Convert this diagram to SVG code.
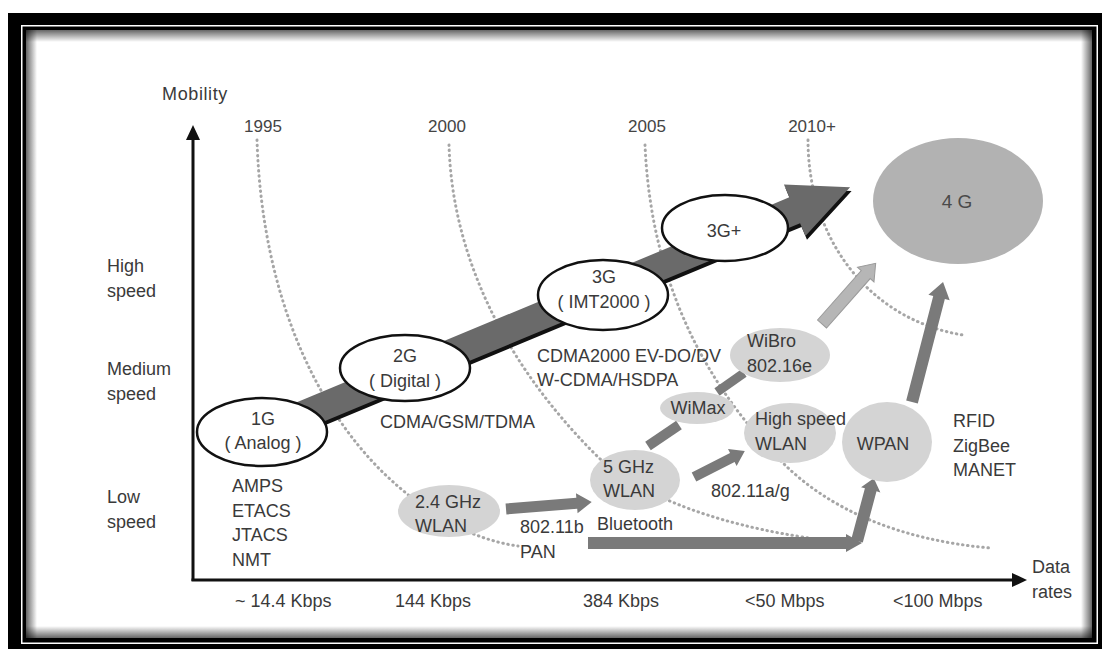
<svg xmlns="http://www.w3.org/2000/svg" width="1102" height="649" viewBox="0 0 1102 649">
<defs>
<style>
text{font-family:"Liberation Sans",Arial,sans-serif;font-size:18px;fill:#3a3a3a}
.yr{font-size:17px;text-anchor:middle;fill:#444}
.mid{text-anchor:middle}
.dot{fill:none;stroke:#a6a6a6;stroke-width:3;stroke-linecap:round;stroke-dasharray:0.5 4.6}
.wnode{fill:#fff;stroke:#111;stroke-width:2.5}
.gnode{fill:#d4d4d4}
.garrow{fill:#7a7a7a}
.axis{stroke:#111;stroke-width:3;fill:none}
</style>
<linearGradient id="shT" x1="0" y1="0" x2="0" y2="1"><stop offset="0" stop-color="#000" stop-opacity="0.6"/><stop offset="1" stop-color="#000" stop-opacity="0"/></linearGradient>
<linearGradient id="shB" x1="0" y1="1" x2="0" y2="0"><stop offset="0" stop-color="#000" stop-opacity="0.6"/><stop offset="1" stop-color="#000" stop-opacity="0"/></linearGradient>
<linearGradient id="shL" x1="0" y1="0" x2="1" y2="0"><stop offset="0" stop-color="#000" stop-opacity="0.6"/><stop offset="1" stop-color="#000" stop-opacity="0"/></linearGradient>
<linearGradient id="shR" x1="1" y1="0" x2="0" y2="0"><stop offset="0" stop-color="#000" stop-opacity="0.6"/><stop offset="1" stop-color="#000" stop-opacity="0"/></linearGradient>
</defs>

<g id="frame">
<rect x="0" y="0" width="1102" height="649" fill="#fff"/>
<rect x="8" y="13" width="1094" height="636" fill="#000"/>
<rect x="21.75" y="25.75" width="1075.5" height="617.5" fill="none" stroke="#fff" stroke-width="1.5"/>
<rect x="26" y="30" width="1066" height="608" fill="#fff"/>
<rect x="26" y="30" width="1066" height="12" fill="url(#shT)"/>
<rect x="26" y="626" width="1066" height="12" fill="url(#shB)"/>
<rect x="26" y="30" width="11" height="608" fill="url(#shL)"/>
<rect x="1081" y="30" width="11" height="608" fill="url(#shR)"/>
</g>

<g id="guides">
<path class="dot" d="M257,140 C262,300 320,420 400,488 C435,518 475,540 518,546"/>
<path class="dot" d="M449,145 C452,250 500,360 598,457 C640,495 720,530 850,543"/>
<path class="dot" d="M645,145 C650,260 690,370 783,463 C830,510 900,540 990,548"/>
<path class="dot" d="M808,140 C808,240 870,320 963,335"/>
</g>

<g id="axes">
<line class="axis" x1="193" y1="581" x2="193" y2="138"/>
<polygon points="193,125 186,140 200,140" fill="#111"/>
<line class="axis" x1="191.5" y1="580" x2="1013" y2="580"/>
<polygon points="1027,580 1012,573 1012,587" fill="#111"/>
<text x="195" y="100" class="mid" style="letter-spacing:0.6px">Mobility</text>
<text x="263" y="132" class="yr">1995</text>
<text x="447" y="132" class="yr">2000</text>
<text x="647" y="132" class="yr">2005</text>
<text x="812" y="132" class="yr">2010+</text>
<text x="107" y="272">High</text>
<text x="107" y="297">speed</text>
<text x="107" y="375">Medium</text>
<text x="107" y="400">speed</text>
<text x="107" y="503">Low</text>
<text x="107" y="528">speed</text>
<text x="235" y="607">~ 14.4 Kbps</text>
<text x="395" y="607">144 Kbps</text>
<text x="583" y="607">384 Kbps</text>
<text x="745" y="607">&lt;50 Mbps</text>
<text x="893" y="607">&lt;100 Mbps</text>
<text x="1032" y="573">Data</text>
<text x="1032" y="598">rates</text>
</g>

<g id="connectors">
<g id="main-arrow" transform="translate(262,432) rotate(-22.6)">
<polygon points="0,-14 577,-14 577,-28 637,0 577,28 577,14 0,14" fill="#111" transform="translate(0,4)"/>
<polygon points="0,-14 577,-14 577,-28 637,0 577,28 577,14 0,14" fill="#6a6a6a"/>
</g>
<polygon class="garrow" transform="translate(506,509) rotate(-4.65)" points="0,-5.5 71,-5.5 71,-10 86,0 71,10 71,5.5 0,5.5"/>
<polygon class="garrow" transform="translate(694,477) rotate(-27)" points="0,-5 43,-5 43,-9.5 57,0 43,9.5 43,5 0,5"/>
<line x1="648" y1="446" x2="679" y2="425" stroke="#7a7a7a" stroke-width="10"/>
<line x1="717" y1="392" x2="744" y2="373" stroke="#7a7a7a" stroke-width="9"/>
<polygon transform="translate(822,324) rotate(-48.5)" points="0,-6 66,-6 66,-11 81,0 66,11 66,6 0,6" fill="#b6b6b6" stroke="#9a9a9a" stroke-width="1"/>
<polygon class="garrow" transform="translate(912,402) rotate(-75.5)" points="0,-6 108,-6 108,-11 124,0 108,11 108,6 0,6"/>
<polygon class="garrow" transform="translate(588,543)" points="0,-6 258,-6 258,-9 274,0 258,9 258,6 0,6"/>
<polygon class="garrow" transform="translate(857,541) rotate(-75)" points="0,-6 53,-6 53,-10 65,0 53,10 53,6 0,6"/>
</g>

<g id="node-1g">
<ellipse class="wnode" cx="262" cy="432" rx="65" ry="34"/>
<text x="263" y="425" class="mid">1G</text>
<text x="263" y="449" class="mid">( Analog )</text>
</g>
<g id="node-2g">
<ellipse class="wnode" cx="405" cy="368" rx="65" ry="33"/>
<text x="405" y="362" class="mid">2G</text>
<text x="405" y="387" class="mid">( Digital )</text>
</g>
<g id="node-3g">
<ellipse class="wnode" cx="603" cy="295" rx="65" ry="35"/>
<text x="604" y="283" class="mid">3G</text>
<text x="604" y="308" class="mid">( IMT2000 )</text>
</g>
<g id="node-3gplus">
<ellipse class="wnode" cx="725" cy="228" rx="63" ry="33"/>
<text x="724" y="237" class="mid">3G+</text>
</g>
<g id="node-4g">
<ellipse cx="958" cy="201" rx="85" ry="63" fill="#b2b2b2"/>
<text x="957" y="208" class="mid" style="font-size:19px;fill:#4a4a4a">4 G</text>
</g>
<g id="node-24ghz">
<ellipse class="gnode" cx="449" cy="511" rx="51" ry="26"/>
<text x="415" y="508">2.4 GHz</text>
<text x="415" y="532">WLAN</text>
</g>
<g id="node-5ghz">
<ellipse class="gnode" cx="635" cy="480" rx="45" ry="30"/>
<text x="603" y="473">5 GHz</text>
<text x="603" y="497">WLAN</text>
</g>
<g id="node-wimax">
<ellipse class="gnode" cx="697" cy="408" rx="37" ry="16"/>
<text x="698" y="414" class="mid">WiMax</text>
</g>
<g id="node-wibro">
<ellipse class="gnode" cx="780" cy="355" rx="50" ry="27"/>
<text x="747" y="347">WiBro</text>
<text x="747" y="372">802.16e</text>
</g>
<g id="node-hswlan">
<ellipse class="gnode" cx="790" cy="433" rx="46" ry="30"/>
<text x="755" y="425">High speed</text>
<text x="755" y="450">WLAN</text>
</g>
<g id="node-wpan">
<ellipse class="gnode" cx="887" cy="442" rx="45" ry="40"/>
<text x="883" y="450" class="mid">WPAN</text>
</g>

<g id="labels">
<text x="232" y="492">AMPS</text>
<text x="232" y="516.5">ETACS</text>
<text x="232" y="541">JTACS</text>
<text x="232" y="565.5">NMT</text>
<text x="380" y="428">CDMA/GSM/TDMA</text>
<text x="537" y="362">CDMA2000 EV-DO/DV</text>
<text x="537" y="386">W-CDMA/HSDPA</text>
<text x="711" y="497">802.11a/g</text>
<text x="520" y="533">802.11b</text>
<text x="520" y="558">PAN</text>
<text x="597" y="530">Bluetooth</text>
<text x="953" y="427">RFID</text>
<text x="953" y="452">ZigBee</text>
<text x="953" y="476">MANET</text>
</g>
</svg>
